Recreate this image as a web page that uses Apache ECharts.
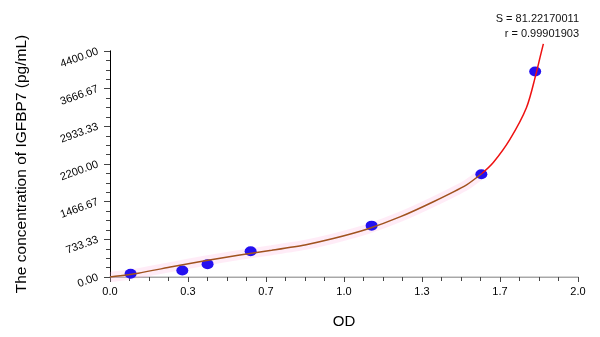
<!DOCTYPE html>
<html>
<head>
<meta charset="utf-8">
<script src="https://cdn.jsdelivr.net/npm/echarts@6/dist/echarts.min.js"></script>
<style>
html,body{margin:0;padding:0;background:#fff;}
#chart{width:600px;height:337px;}
</style>
</head>
<body>
<div id="chart"></div>
<script>
// Standard points (OD, concentration pg/mL)
var pointOD = [0.088, 0.309, 0.417, 0.601, 1.118, 1.587, 1.817];
var pointConc = [62.5, 125, 250, 500, 1000, 2000, 4000];

// Fitted curve (lower, brown part)
var curveOD = [0, 0.121, 0.264, 0.406, 0.548, 0.691, 0.833, 0.954, 1.097, 1.239, 1.382, 1.524, 1.588];
var curveConc = [0, 74, 198, 316, 425, 522, 625, 748, 929, 1170, 1466, 1795, 2010];

// Upper, red part of the fitted curve
var upperOD = [1.588, 1.638, 1.709, 1.78, 1.821, 1.838, 1.852];
var upperConc = [2010, 2230, 2680, 3300, 3960, 4280, 4540];

var yTicks = ['0.00', '733.33', '1466.67', '2200.00', '2933.33', '3666.67', '4400.00'];
var xTicks = ['0.0', '0.3', '0.7', '1.0', '1.3', '1.7', '2.0'];

var statS = 'S = 81.22170011';
var statR = 'r = 0.99901903';

function zip(a, b) { return a.map(function (v, i) { return [v, b[i]]; }); }

var chart = echarts.init(document.getElementById('chart'));
var fontFam = '"Liberation Sans", Arial, sans-serif';

chart.setOption({
  animation: false,
  backgroundColor: '#ffffff',
  grid: { left: 110, right: 22, top: 51, bottom: 60 },
  xAxis: [{
    type: 'value', min: 0, max: 2, interval: 1 / 3,
    name: 'OD', nameLocation: 'middle', nameGap: 37,
    nameTextStyle: { fontFamily: fontFam, fontSize: 15, color: '#000' },
    axisLine: { show: true, lineStyle: { color: '#444', width: 1 } },
    axisTick: { show: true, length: 5, inside: false, lineStyle: { color: '#444' } },
    minorTick: { show: true, splitNumber: 4, length: 4, lineStyle: { color: '#444' } },
    splitLine: { show: false },
    axisLabel: {
      fontFamily: fontFam, fontSize: 11, color: '#000', margin: 9,
      formatter: function (v) { return xTicks[Math.round(v * 3)]; }
    }
  }, {
    type: 'value', min: 0, max: 2, position: 'top',
    axisLine: { show: true, lineStyle: { color: '#c8c8c8', width: 1.5 } },
    axisTick: { show: false }, axisLabel: { show: false }, splitLine: { show: false }
  }],
  yAxis: [{
    type: 'value', min: 0, max: 4400, interval: 4400 / 6,
    name: 'The concentration of IGFBP7 (pg/mL)', nameLocation: 'middle', nameGap: 80,
    nameTextStyle: { fontFamily: fontFam, fontSize: 15.5, color: '#000' },
    axisLine: { show: true, lineStyle: { color: '#444', width: 1 } },
    axisTick: { show: true, length: 6, lineStyle: { color: '#444' } },
    minorTick: { show: true, splitNumber: 4, length: 4, lineStyle: { color: '#444' } },
    splitLine: { show: false },
    axisLabel: {
      fontFamily: fontFam, fontSize: 11, color: '#000', rotate: 20, margin: 12,
      formatter: function (v) { return yTicks[Math.round(v / (4400 / 6))]; }
    }
  }, {
    type: 'value', min: 0, max: 4400, position: 'right',
    axisLine: { show: true, lineStyle: { color: '#000', width: 1 } },
    axisTick: { show: false }, axisLabel: { show: false }, splitLine: { show: false }
  }],
  graphic: [
    { type: 'text', right: 21, top: 13, style: { text: statS, font: '11px ' + fontFam, fill: '#111', textAlign: 'right' } },
    { type: 'text', right: 21, top: 28, style: { text: statR, font: '11px ' + fontFam, fill: '#111', textAlign: 'right' } }
  ],
  series: [
    {
      type: 'line', data: zip(curveOD, curveConc), smooth: 0.2, showSymbol: false, z: 1,
      lineStyle: { color: 'rgba(255,170,220,0.22)', width: 10 }, silent: true
    },
    {
      type: 'scatter', data: zip(pointOD, pointConc), symbol: 'circle', symbolSize: [12, 10], z: 2,
      itemStyle: { color: '#2410f0', opacity: 1 }
    },
    {
      type: 'line', data: zip(curveOD, curveConc), smooth: 0.2, showSymbol: false, z: 3,
      lineStyle: { color: '#a0521e', width: 1.5 }
    },
    {
      type: 'line', data: zip(upperOD, upperConc), smooth: 0.3, showSymbol: false, z: 3, clip: false,
      lineStyle: { color: '#ee1111', width: 1.5 }
    }
  ]
});
</script>
</body>
</html>
